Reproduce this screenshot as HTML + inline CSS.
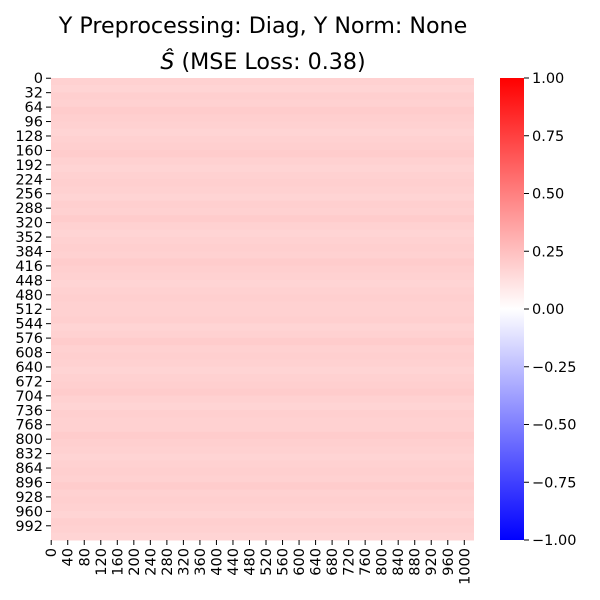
<!DOCTYPE html>
<html><head><meta charset="utf-8"><style>
html,body{margin:0;padding:0;background:#fff;}
svg{display:block;font-family:"DejaVu Sans","Liberation Sans",sans-serif;}
</style></head><body>
<svg id="chart" width="600" height="600" viewBox="0 0 600 600">
<defs>
<linearGradient id="bwr" x1="0" y1="1" x2="0" y2="0">
<stop offset="0" stop-color="#0000ff"/><stop offset="0.5" stop-color="#ffffff"/><stop offset="1" stop-color="#ff0000"/>
</linearGradient>
</defs>
<text x="263" y="33" text-anchor="middle" font-size="22.2">Y Preprocessing: Diag, Y Norm: None</text>
<text x="263" y="69" text-anchor="middle" font-size="22.2"><tspan font-style="italic">Ŝ</tspan> (MSE Loss: 0.38)</text>
<g id="cells"></g>
<g id="yaxis"></g>
<g id="xaxis"></g>
<rect x="500" y="78" width="24" height="462" fill="url(#bwr)"/>
<g id="cbaxis"></g>
</svg>
<script>
const nRows = 1024;
const nCols = 1024;
const bandValues = [0.18,0.17,0.19,0.18,0.20,0.19,0.18,0.17,0.18,0.19,0.20,0.18,0.17,0.18,0.19,0.18,
0.17,0.19,0.18,0.20,0.18,0.17,0.18,0.19,0.18,0.20,0.19,0.18,0.17,0.18,0.19,0.18,
0.18,0.19,0.17,0.18,0.20,0.18,0.19,0.18,0.17,0.18,0.19,0.20,0.18,0.17,0.19,0.18,
0.18,0.20,0.19,0.18,0.17,0.18,0.19,0.18,0.20,0.18,0.19,0.18,0.17,0.19,0.18,0.17];
const yTicks = Array.from({length:32},(_,i)=>i*32);
const xTicks = Array.from({length:26},(_,i)=>i*40);
const cbTicks = [1.00,0.75,0.50,0.25,0.00,-0.25,-0.50,-0.75,-1.00];

const X0=51, X1=474, Y0=78, Y1=540;
const xs = c => X0 + (c/nCols)*(X1-X0);
const ys = r => Y0 + (r/nRows)*(Y1-Y0);
const cbY = v => Y0 + (1-v)/2*(Y1-Y0);
function bwr(v){
  if(v>=0){const g=Math.round(255*(1-v));return `rgb(255,${g},${g})`;}
  const g=Math.round(255*(1+v));return `rgb(${g},${g},255)`;
}
const NS="http://www.w3.org/2000/svg";
const cells=document.getElementById('cells');
const bandH = nRows/bandValues.length;
bandValues.forEach((v,i)=>{
  const r=document.createElementNS(NS,'rect');
  
  
  r.setAttribute('x',X0);r.setAttribute('width',X1-X0);
  r.setAttribute('y',ys(i*bandH));r.setAttribute('height',ys((i+1)*bandH)-ys(i*bandH)+0.5);
  r.setAttribute('fill',bwr(v));
  cells.appendChild(r);
});
const FS='14.5';
const ya=document.getElementById('yaxis');
yTicks.forEach(t=>{
  const y=ys(t+0.5);
  const l=document.createElementNS(NS,'line');
  
  
  l.setAttribute('x1',X0-5);l.setAttribute('x2',X0);l.setAttribute('y1',y);l.setAttribute('y2',y);l.setAttribute('stroke','#000');
  ya.appendChild(l);
  const tx=document.createElementNS(NS,'text');
  
  
  tx.setAttribute('x',X0-8);tx.setAttribute('y',y+5);tx.setAttribute('text-anchor','end');tx.setAttribute('font-size',FS);
  tx.textContent=t;ya.appendChild(tx);
});
const xa=document.getElementById('xaxis');
xTicks.forEach(t=>{
  const x=xs(t+0.5);
  const l=document.createElementNS(NS,'line');
  
  
  l.setAttribute('x1',x);l.setAttribute('x2',x);l.setAttribute('y1',Y1);l.setAttribute('y2',Y1+5);l.setAttribute('stroke','#000');
  xa.appendChild(l);
  const tx=document.createElementNS(NS,'text');
  
  
  tx.setAttribute('transform',`translate(${x+5},${Y1+8}) rotate(-90)`);tx.setAttribute('text-anchor','end');tx.setAttribute('font-size',FS);
  tx.textContent=t;xa.appendChild(tx);
});
const ca=document.getElementById('cbaxis');
cbTicks.forEach(t=>{
  const y=cbY(t);
  const l=document.createElementNS(NS,'line');
  
  
  l.setAttribute('x1',524);l.setAttribute('x2',529);l.setAttribute('y1',y);l.setAttribute('y2',y);l.setAttribute('stroke','#000');
  ca.appendChild(l);
  const tx=document.createElementNS(NS,'text');
  
  
  tx.setAttribute('x',532);tx.setAttribute('y',y+5);tx.setAttribute('font-size',FS);
  tx.textContent=(t<0?'\u2212':'')+Math.abs(t).toFixed(2);ca.appendChild(tx);
});
</script>
</body></html>
